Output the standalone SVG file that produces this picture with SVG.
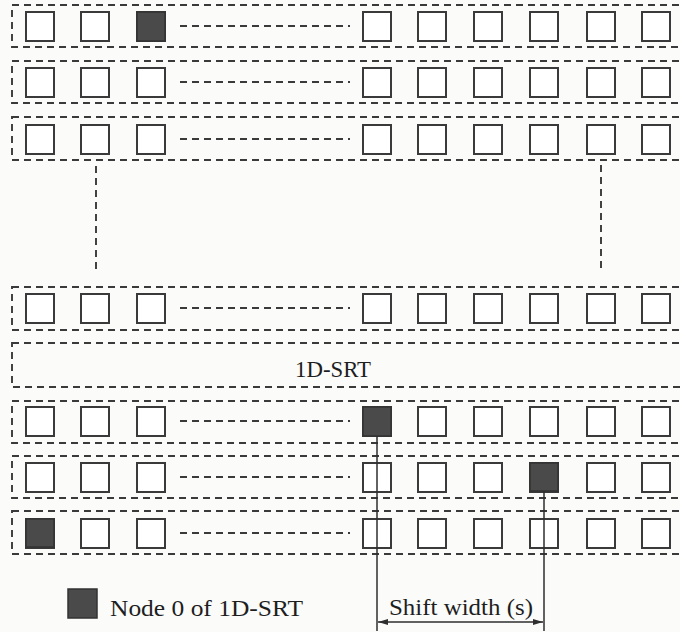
<svg xmlns="http://www.w3.org/2000/svg" width="680" height="632" viewBox="0 0 680 632">
<defs>
<style>
.row{fill:none;stroke:#3a3a3a;stroke-width:1.9;stroke-dasharray:7 5}
.sq{fill:#fff;stroke:#3a3a3a;stroke-width:2}
.fill{fill:#4a4a4a;stroke:#333;stroke-width:1.5}
.dl{fill:none;stroke:#3a3a3a;stroke-width:1.9;stroke-dasharray:7 5}
.vl{fill:none;stroke:#3a3a3a;stroke-width:1.9;stroke-dasharray:7 5}
.ln{fill:none;stroke:#2e2e2e;stroke-width:1.5}
.t{font-family:"Liberation Serif","Times New Roman",serif;fill:#1e1e1e}
</style>
<marker id="ah" viewBox="0 0 10 6" refX="10" refY="3" markerWidth="10" markerHeight="6" markerUnits="userSpaceOnUse" orient="auto-start-reverse">
<path d="M0,0 L10,3 L0,6 Z" fill="#2e2e2e"/>
</marker>
<g id="sqs">
<rect class="sq" x="26" y="0" width="28" height="29"/>
<rect class="sq" x="81" y="0" width="28" height="29"/>
<rect class="sq" x="137" y="0" width="28" height="29"/>
<line class="dl" x1="180" y1="14" x2="350" y2="14"/>
<rect class="sq" x="363" y="0" width="28" height="29"/>
<rect class="sq" x="418" y="0" width="28" height="29"/>
<rect class="sq" x="474" y="0" width="28" height="29"/>
<rect class="sq" x="530" y="0" width="28" height="29"/>
<rect class="sq" x="587" y="0" width="28" height="29"/>
<rect class="sq" x="642" y="0" width="28" height="29"/>
</g>
</defs>
<rect width="680" height="632" fill="#fbfbfa"/>

<g id="row1">
<rect class="row" x="12" y="5" width="690" height="42"/>
<use href="#sqs" y="12"/>
<rect class="fill" x="137" y="12" width="28" height="29"/>
</g>
<g id="row2">
<rect class="row" x="12" y="61" width="690" height="42"/>
<use href="#sqs" y="68"/>
</g>
<g id="row3">
<rect class="row" x="12" y="117" width="690" height="43"/>
<use href="#sqs" y="125"/>
</g>
<g id="row4">
<rect class="row" x="12" y="287" width="690" height="43"/>
<use href="#sqs" y="294"/>
</g>
<g id="srt">
<rect class="row" x="12" y="343" width="690" height="44"/>
<text class="t" x="295" y="377" font-size="23" textLength="76" lengthAdjust="spacingAndGlyphs">1D-SRT</text>
</g>
<g id="row6">
<rect class="row" x="12" y="401" width="690" height="42"/>
<use href="#sqs" y="407"/>
<rect class="fill" x="363" y="407" width="28" height="29"/>
</g>
<g id="row7">
<rect class="row" x="12" y="456" width="690" height="42"/>
<use href="#sqs" y="463"/>
<rect class="fill" x="530" y="463" width="28" height="28"/>
</g>
<g id="row8">
<rect class="row" x="12" y="511" width="690" height="43"/>
<use href="#sqs" y="519"/>
<rect class="fill" x="26" y="519" width="28" height="28"/>
</g>
<g id="legend">
<rect class="fill" x="68" y="589" width="29" height="29"/>
<text class="t" x="110" y="616" font-size="23.5" textLength="193" lengthAdjust="spacingAndGlyphs">Node 0 of 1D-SRT</text>
</g>
<g id="connectors">
<line class="vl" x1="96" y1="166" x2="96" y2="274"/>
<line class="vl" x1="601" y1="165" x2="601" y2="273"/>
<line class="ln" x1="377" y1="436" x2="377" y2="631"/>
<line class="ln" x1="544" y1="491" x2="544" y2="631"/>
<line class="ln" x1="378" y1="622" x2="543" y2="622" marker-start="url(#ah)" marker-end="url(#ah)"/>
<text class="t" x="389" y="615" font-size="23.5" textLength="144" lengthAdjust="spacingAndGlyphs">Shift width (s)</text>
</g>
</svg>
